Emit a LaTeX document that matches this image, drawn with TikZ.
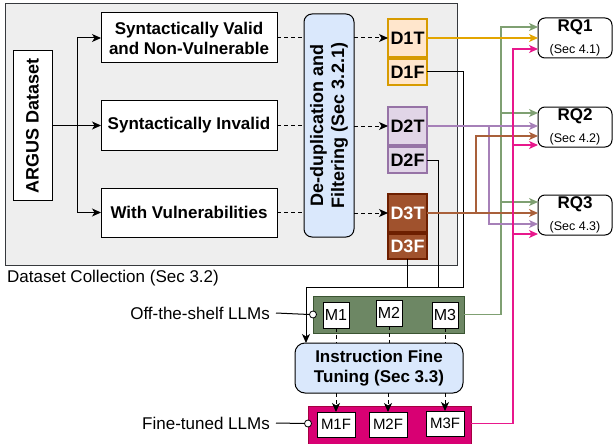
\documentclass[tikz,border=0pt]{standalone}
\usepackage{fontspec}
\setmainfont{Liberation Sans}
\usetikzlibrary{arrows.meta,calc}
\definecolor{cgray}{HTML}{EEEEEE}
\definecolor{cgrayd}{HTML}{36393D}
\definecolor{orfill}{HTML}{FFE6CC}
\definecolor{ordraw}{HTML}{D79B00}
\definecolor{orline}{HTML}{E3A500}
\definecolor{pufill}{HTML}{E1D5E7}
\definecolor{pudraw}{HTML}{9673A6}
\definecolor{puline}{HTML}{A680B8}
\definecolor{brfill}{HTML}{A0522D}
\definecolor{brdraw}{HTML}{6D1F00}
\definecolor{brline}{HTML}{A9603A}
\definecolor{grfill}{HTML}{6D8764}
\definecolor{grdraw}{HTML}{3A5431}
\definecolor{grline}{HTML}{7FA072}
\definecolor{pkfill}{HTML}{D80073}
\definecolor{pkdraw}{HTML}{A50040}
\definecolor{pkline}{HTML}{E8188C}
\definecolor{blfill}{HTML}{DAE8FC}
\begin{document}
\begin{tikzpicture}[x=1pt,y=-1pt,
  base/.style={inner sep=0pt, outer sep=0pt, align=center, line width=1pt},
  wbox/.style={base, draw=black, fill=white, font=\fontsize{17}{20}\selectfont\bfseries},
  dbox/.style={base, anchor=north west, font=\fontsize{18}{21}\selectfont\bfseries, minimum width=39, line width=1.1pt},
  rqbox/.style={base, draw=black, fill=white, rounded corners=7pt, minimum width=74, minimum height=40, anchor=north west, font=\fontsize{17}{19}\selectfont\bfseries},
  sec/.style={font=\fontsize{12.5}{14}\selectfont\mdseries},
  mbox/.style={base, draw=black, fill=white, font=\fontsize{16}{18}\selectfont, anchor=north west},
  mfbox/.style={mbox, minimum width=38, minimum height=25, font=\fontsize{15}{18}\selectfont},
  lbl/.style={font=\fontsize{17}{20}\selectfont, inner sep=2pt},
  tip/.style={-{Stealth[length=9pt,width=8pt,inset=2.5pt]}},
  wire/.style={line width=1pt},
  cwire/.style={line width=1.2pt, tip},
  dsh/.style={line width=1pt, dash pattern=on 4pt off 3pt},
  dot/.style={circle, draw=black, fill=white, minimum size=7pt, inner sep=0pt, line width=0.8pt}
]
\useasboundingbox (0,0) rectangle (613,444);

% dataset collection container
\node[base, draw=cgrayd, fill=cgray, minimum width=452, minimum height=261, anchor=north west] (coll) at (5,4) {};
\node[lbl, anchor=west] (colllbl) at (5,278) {Dataset Collection (Sec 3.2)};

\node[wbox, rotate=90, minimum width=149, minimum height=39, font=\fontsize{18}{21}\selectfont\bfseries] (argus) at (32.5,125.5) {ARGUS Dataset};
\node[wbox, anchor=north west, minimum width=176, minimum height=50] (sv) at (101,13) {Syntactically Valid\\and Non-Vulnerable};
\node[wbox, anchor=north west, minimum width=176, minimum height=50] (si) at (101,100) {Syntactically Invalid};
\node[wbox, anchor=north west, minimum width=176, minimum height=49] (wv) at (101,188) {With Vulnerabilities};
\node[base, draw=black, fill=blfill, rounded corners=8pt, rotate=90, minimum width=223, minimum height=50, font=\fontsize{18}{21}\selectfont\bfseries] (dedup) at (329,125.5) {De-duplication and\\Filtering (Sec 3.2.1)};

\node[dbox, draw=ordraw, fill=orfill, minimum height=38] (d1t) at (388,19) {D1T};
\node[dbox, draw=ordraw, fill=orfill, minimum height=26] (d1f) at (388,59) {D1F};
\node[dbox, draw=pudraw, fill=pufill, minimum height=38] (d2t) at (388,107) {D2T};
\node[dbox, draw=pudraw, fill=pufill, minimum height=26] (d2f) at (388,147) {D2F};
\node[dbox, draw=brdraw, fill=brfill, text=white, minimum height=38] (d3t) at (388,194) {D3T};
\node[dbox, draw=brdraw, fill=brfill, text=white, minimum height=25] (d3f) at (388,234) {D3F};

% research questions
\node[rqbox] (rq1) at (538,18) {RQ1\\[3pt]{\sffamily\rmfamily\fontsize{12.5}{14}\selectfont\mdseries(Sec 4.1)}};
\node[rqbox] (rq2) at (538,107) {RQ2\\[3pt]{\fontsize{12.5}{14}\selectfont\mdseries(Sec 4.2)}};
\node[rqbox] (rq3) at (538,195) {RQ3\\[3pt]{\fontsize{12.5}{14}\selectfont\mdseries(Sec 4.3)}};

% models
\node[base, draw=grdraw, fill=grfill, minimum width=151, minimum height=37, anchor=north west] (offs) at (313,296) {};
\node[mbox, minimum width=26, minimum height=26] (m1) at (323,302) {M1};
\node[mbox, minimum width=26, minimum height=26] (m2) at (376,300) {M2};
\node[mbox, minimum width=26, minimum height=26] (m3) at (432,302) {M3};
\node[base, draw=black, fill=blfill, rounded corners=10pt, minimum width=168, minimum height=50, anchor=north west, font=\fontsize{17}{20}\selectfont\bfseries] (ift) at (295,343) {Instruction Fine\\Tuning (Sec 3.3)};
\node[base, draw=pkdraw, fill=pkfill, minimum width=163, minimum height=39, anchor=north west] (fine) at (308,406) {};
\node[mfbox] (m1f) at (317,412) {M1F};
\node[mfbox] (m2f) at (369,412) {M2F};
\node[mfbox] (m3f) at (426,411) {M3F};

\node[lbl, anchor=east] (offlbl) at (272,313) {Off-the-shelf LLMs};
\node[lbl, anchor=east] (finelbl) at (272,423) {Fine-tuned LLMs};
\node[dot] (c1) at (offs.west) {};
\node[dot] (c2) at ($(fine.west)+(0,-2)$) {};
\draw[wire] ([xshift=4pt]offlbl.east) -- (c1.west);
\draw[wire] ([xshift=4pt]finelbl.east) -- (c2.west);

% argus fork
\draw[wire, tip] (argus.south) -- (argus.south -| si.west);
\draw[wire, tip] (argus.south) -- ++(25,0) |- (sv.west);
\draw[wire, tip] (argus.south) -- ++(25,0) |- (wv.west);

% dashed through dedup
\draw[dsh] (sv.east) -- (sv.east -| dedup.north);
\draw[dsh] (si.east) -- (si.east -| dedup.north);
\draw[dsh] (wv.east) -- (wv.east -| dedup.north);
\draw[dsh, tip] (d1t.west -| dedup.south) -- (d1t.west);
\draw[dsh, tip] (d2t.west -| dedup.south) -- (d2t.west);
\draw[dsh, tip] (d3t.west -| dedup.south) -- (d3t.west);

% training data bus
\coordinate (busR) at (463,287);
\coordinate (busL) at (306,287);
\coordinate (bus2) at (438,287);
\draw[wire] (d1f.east) -| (busR) -- (busL);
\draw[wire] (d2f.east) -| (bus2);
\draw[wire] (d3f.south) -- (d3f.south |- busL);
\draw[wire, tip] (busL) -- (busL |- ift.north);

% model dashed
\draw[dsh] (m1.south) -- (m1.south |- ift.north);
\draw[dsh] (m2.south) -- (m2.south |- ift.north);
\draw[dsh] (m3.south) -- (m3.south |- ift.north);
\draw[dsh, tip] (m1f.north |- ift.south) -- (m1f.north);
\draw[dsh, tip] (m2f.north |- ift.south) -- (m2f.north);
\draw[dsh, tip] (m3f.north |- ift.south) -- (m3f.north);

% coloured connectors to RQs
\draw[cwire, grline] (offs.east) -| ($(rq1.west)+(-37,-11)$) -- ($(rq1.west)+(0,-11)$);
\draw[cwire, grline] ($(rq2.west)+(-37,-14)$) -- ($(rq2.west)+(0,-14)$);
\draw[cwire, grline] ($(rq3.west)+(-37,-13)$) -- ($(rq3.west)+(0,-13)$);

\draw[cwire, orline] (d1t.east) -- (d1t.east -| rq1.west);

\draw[cwire, puline] (d2t.east) -- (d2t.east -| rq2.west);
\draw[cwire, puline] ($(rq2.west |- d2t.east)+(-49,0)$) |- ($(rq3.west)+(0,9)$);

\draw[cwire, brline] (d3t.east) -- (d3t.east -| rq3.west);
\draw[cwire, brline] ($(rq3.west |- d3t.east)+(-62,0)$) |- ($(rq2.west)+(0,9)$);

\draw[cwire, pkline] ($(fine.east)+(0,-2)$) -| ($(rq1.west)+(-25,11)$) -- ($(rq1.west)+(0,11)$);
\draw[cwire, pkline] ($(rq2.west)+(-25,18)$) -- ($(rq2.west)+(0,18)$);
\draw[cwire, pkline] ($(rq3.west)+(-25,19)$) -- ($(rq3.west)+(0,19)$);
\end{tikzpicture}
\end{document}
